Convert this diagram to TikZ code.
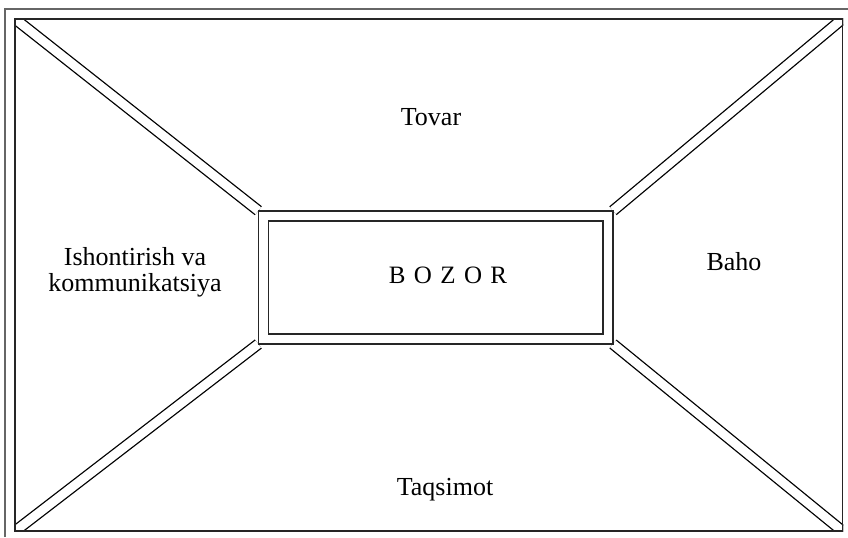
\documentclass[tikz,border=0pt]{standalone}
\usepackage{fontspec}
\setmainfont{Liberation Serif}
\usepackage{tikz}
\usetikzlibrary{calc}
\tikzstyle{frame} = [draw=black!85, line width=0.8pt, rectangle, inner sep=0pt,
minimum width=413.75pt, minimum height=256pt]
\tikzstyle{market} = [draw=black!85, line width=0.8pt, double, double distance=4.2pt,
rectangle, inner sep=0pt, outer sep=2.5pt, fill=white,
minimum width=172.35pt, minimum height=61.65pt]
\tikzstyle{rail} = [draw=black, line width=0.65pt, double, double distance=4.4pt]
\tikzstyle{shade} = [draw=black!60, line width=0.8pt]
\tikzstyle{lbl} = [font=\fontsize{13pt}{13pt}\selectfont, inner sep=0pt]

\begin{document}
\begin{tikzpicture}[x=0.5pt, y=-0.5pt]
        \useasboundingbox (0,0) rectangle (848,537);
        \node [frame] (frame) at (428.75,275) {};
        \node [market, draw=none, fill=none] (box) at (435.65,277.35) {};
        \begin{scope}
            \clip (frame.north west) rectangle (frame.south east);
            \draw [rail] (frame.north west) -- (box.north west);
            \draw [rail] (frame.north east) -- (box.north east);
            \draw [rail] (frame.south west) -- (box.south west);
            \draw [rail] (frame.south east) -- (box.south east);
        \end{scope}
        \node [market] at (box) {};
        \node [frame] at (frame) {};
        \draw [shade] (5,537) |- (848,9);
        % labels
        \node [lbl, anchor=base] (tovar) at (431,125.7) {Tovar};
        \node [lbl, anchor=base] (baho) at (734,270.7) {Baho};
        \node [lbl, anchor=base] (taqsimot) at (445,495.7) {Taqsimot};
        \node [lbl, anchor=base, align=center] (ishontirish) at (135,291.7)
            {Ishontirish va\\kommunikatsiya};
        \node [lbl, anchor=base, font=\fontsize{12.5pt}{12.5pt}\selectfont] (bozor) at (448,283.3)
            {\spaceskip=4.2pt B O Z O R};
\end{tikzpicture}
\end{document}
